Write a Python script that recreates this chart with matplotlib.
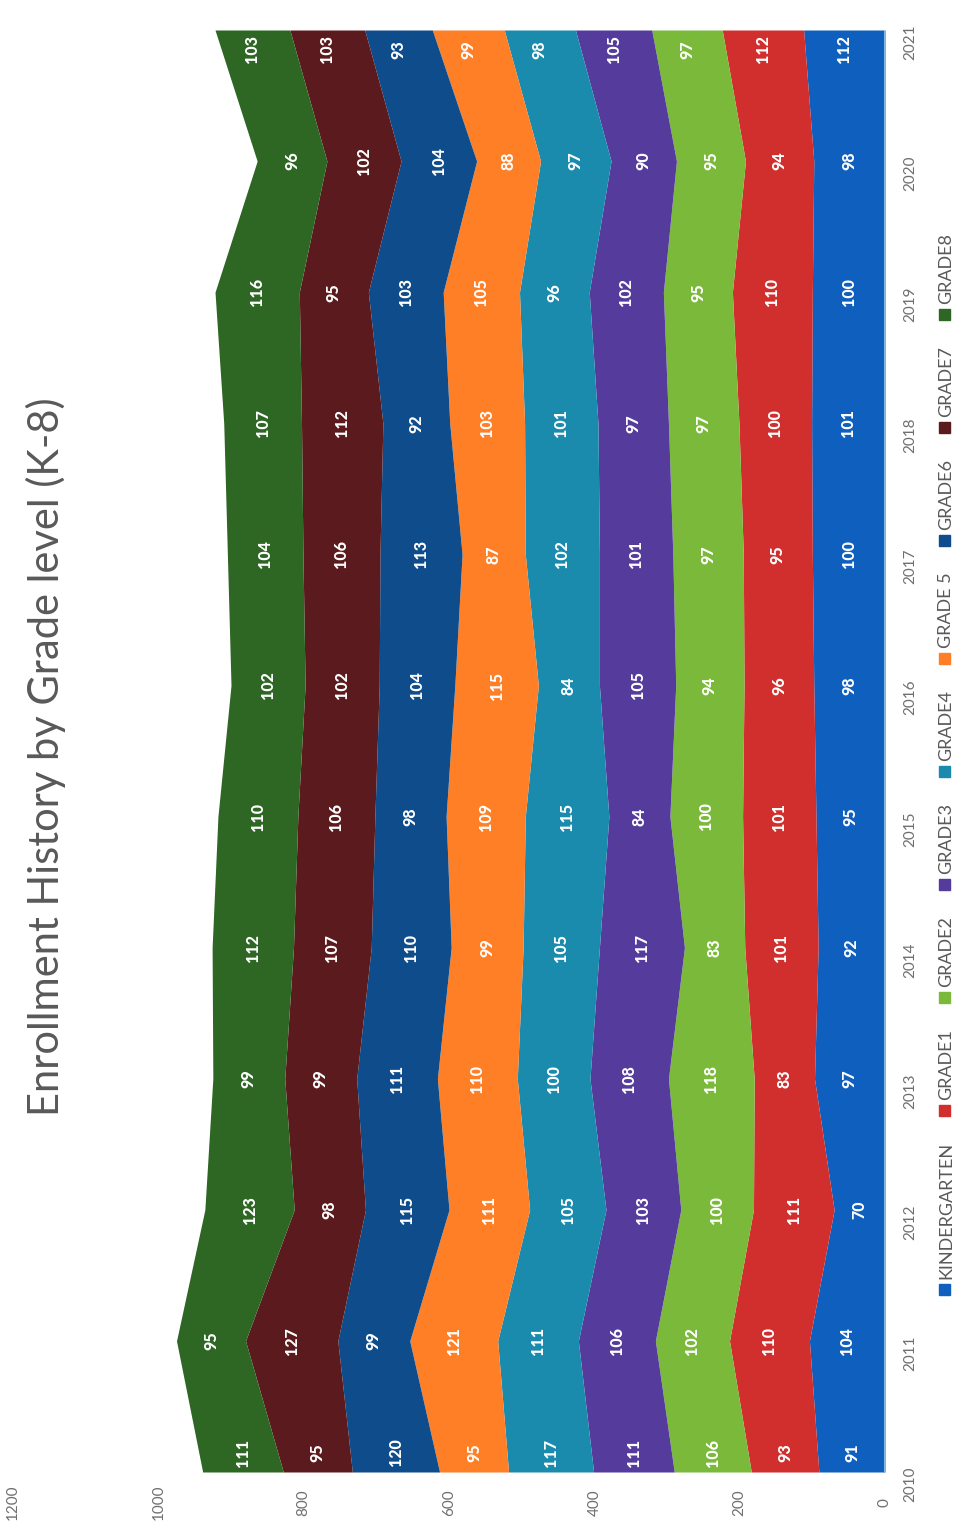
import numpy as np
import matplotlib
matplotlib.use("Agg")
import matplotlib.pyplot as plt
from matplotlib.patches import Rectangle

plt.rcParams["font.family"] = ["Lato", "DejaVu Sans"]

years = list(range(2010, 2022))
grade_names = ["KINDERGARTEN", "GRADE1", "GRADE2", "GRADE3", "GRADE4",
               "GRADE 5", "GRADE6", "GRADE7", "GRADE8"]

kindergarten = [91, 104, 70, 97, 92, 95, 98, 100, 101, 100, 98, 112]
grade1 = [93, 110, 111, 83, 101, 101, 96, 95, 100, 110, 94, 112]
grade2 = [106, 102, 100, 118, 83, 100, 94, 97, 97, 95, 95, 97]
grade3 = [111, 106, 103, 108, 117, 84, 105, 101, 97, 102, 90, 105]
grade4 = [117, 111, 105, 100, 105, 115, 84, 102, 101, 96, 97, 98]
grade5 = [95, 121, 111, 110, 99, 109, 115, 87, 103, 105, 88, 99]
grade6 = [120, 99, 115, 111, 110, 98, 104, 113, 92, 103, 104, 93]
grade7 = [95, 127, 98, 99, 107, 106, 102, 106, 112, 95, 102, 103]
grade8 = [111, 95, 123, 99, 112, 110, 102, 104, 107, 116, 96, 103]

series = [kindergarten, grade1, grade2, grade3, grade4,
          grade5, grade6, grade7, grade8]
colors = ["#0F5FBF", "#D02F2D", "#7BB93B", "#553C9C", "#1A8AAD",
          "#FF7F26", "#0E4C8B", "#5B1A1D", "#2E6624"]

W, H = 978, 1530


def fx(px):
    return px / W


def fy(py):
    # py measured from the top of the image
    return 1 - py / H


fig = plt.figure(figsize=(W / 100, H / 100), dpi=100)
fig.patch.set_facecolor("white")

# chart is drawn rotated: years run bottom to top, values grow to the left
ax = fig.add_axes([fx(13), fy(1472), fx(885) - fx(13), fy(30) - fy(1472)])

base = np.zeros(len(years))
for vals, col in zip(series, colors):
    top = base + np.array(vals)
    ax.fill_betweenx(years, base, top, color=col, linewidth=0)
    for i, yr in enumerate(years):
        off = 0
        if i == 0:
            off = 14
        elif i == len(years) - 1:
            off = -14
        ax.annotate(str(vals[i]), xy=((base[i] + top[i]) / 2, yr),
                    xytext=(0, off), textcoords="offset points",
                    rotation=90, ha="center", va="center",
                    color="white", fontweight="black", fontsize=11.5)
    base = top

ax.set_xlim(1200, 0)
ax.set_ylim(2010, 2021)
ax.set_xticks(range(0, 1201, 200))
ax.set_yticks(years)
ax.yaxis.tick_right()
ax.tick_params(length=0, colors="#6f6f6f", labelsize=11, labelrotation=90)
ax.tick_params(axis="x", pad=22)
ax.tick_params(axis="y", pad=18)
plt.setp(ax.get_xticklabels(), va="center")
plt.setp(ax.get_yticklabels(), ha="center")
for s in ax.spines.values():
    s.set_visible(False)
ax.axvline(0, color="#9ecbe8", linewidth=1.2)

fig.text(fx(46), fy(757), "Enrollment History by Grade level (K-8)",
         rotation=90, ha="center", va="center", fontsize=30, color="#595959")

# legend, laid out by hand because it is rotated
fig.canvas.draw()
renderer = fig.canvas.get_renderer()
sq = 11
gap_txt = 5
gap_entry = 26
texts = []
total = 0
for name in grade_names:
    t = fig.text(0, 0, name, rotation=90, fontsize=13, color="#595959",
                 ha="center", va="bottom")
    h = t.get_window_extent(renderer).height
    texts.append((t, h))
    total += sq + gap_txt + h
total += gap_entry * (len(grade_names) - 1)

pos = 764 + total / 2
for (t, h), col in zip(texts, colors):
    fig.patches.append(Rectangle((fx(939), fy(pos)), sq / W, sq / H,
                                 transform=fig.transFigure, color=col))
    t.set_position((fx(946), fy(pos - sq - gap_txt)))
    pos = pos - sq - gap_txt - h - gap_entry

fig.savefig("out.png", dpi=100)
